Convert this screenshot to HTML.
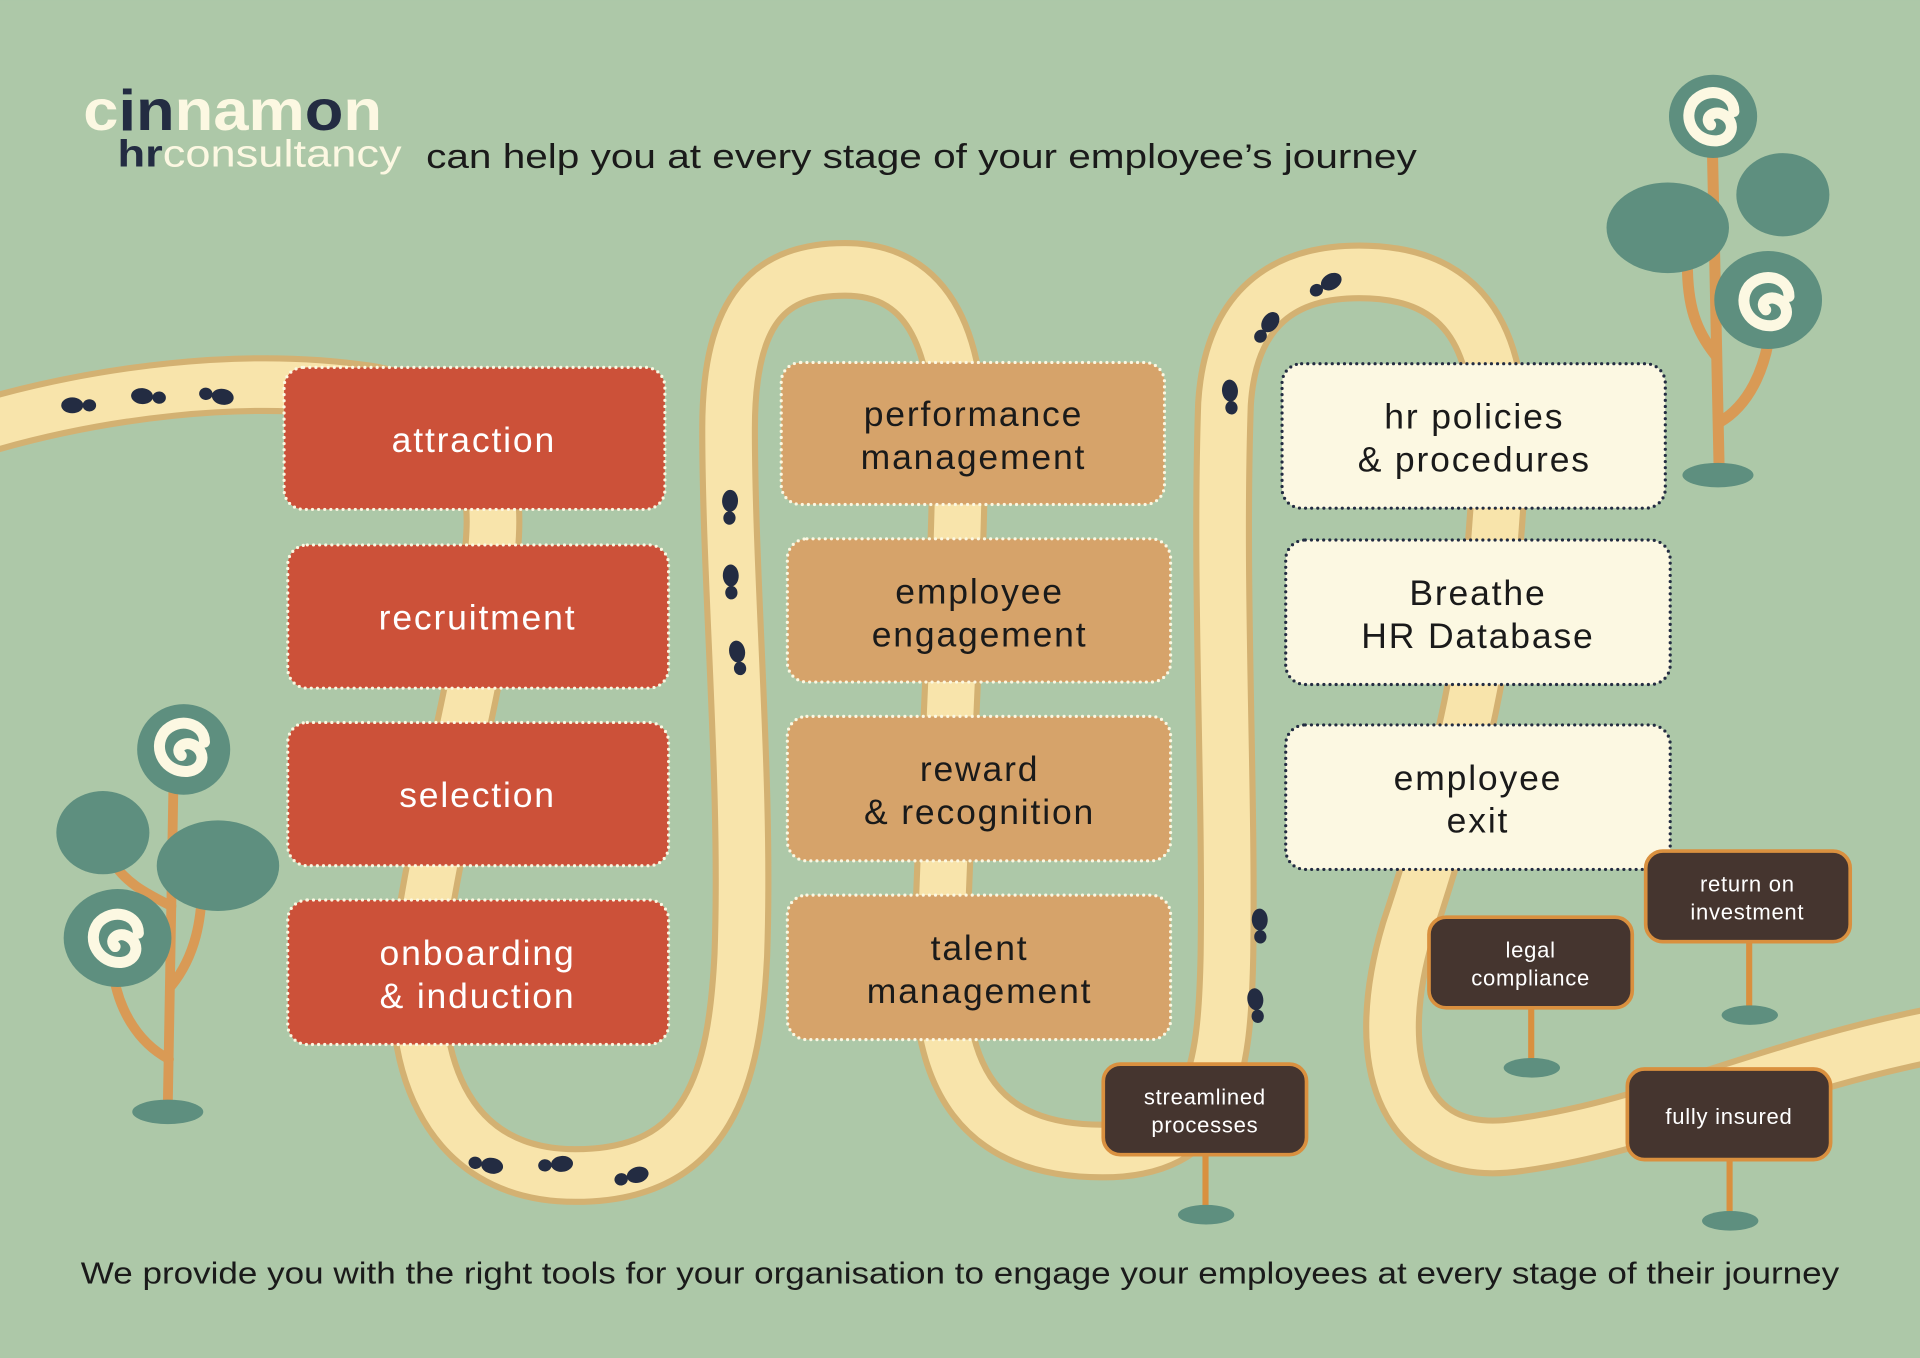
<!DOCTYPE html>
<html><head><meta charset="utf-8"><style>
html,body{margin:0;padding:0;background:#adc8a8;}
svg{display:block;}
text{font-family:"Liberation Sans",sans-serif;}
</style></head><body>
<svg width="1920" height="1358" viewBox="0 0 1568 1109" xmlns="http://www.w3.org/2000/svg">
<defs>
<g id="fp"><ellipse cx="-8" cy="0" rx="5.5" ry="5" fill="#232c42"/><ellipse cx="6" cy="0" rx="9" ry="6.5" fill="#232c42"/></g>
<g id="sp"><path d="M 17 -4 C 17 -20, -5 -25, -16 -12 C -26 2, -15 21, 3 20 C 16 19, 19 5, 9 -1 C 1 -6, -8 1, -2 7" fill="none" stroke="#fcf8e2" stroke-width="9" stroke-linecap="round"/></g>
</defs>
<rect width="1568" height="1109" fill="#adc8a8"/>
<path d="M -20 350 C 80 320, 200 305, 300 320 C 420 340, 405 420, 398 480 C 390 560, 360 660, 345 760 C 330 860, 360 960, 470 960 C 580 960, 600 880, 605 780 C 610 640, 595 480, 595 350 C 595 250, 630 220, 690 220 C 760 220, 785 280, 783 380 C 781 500, 772 650, 768 780 C 765 880, 800 940, 900 940 C 990 940, 1000 880, 1002 780 C 1004 640, 995 480, 1000 330 C 1005 250, 1050 222, 1110 222 C 1200 222, 1228 280, 1224 380 C 1220 520, 1190 640, 1150 760 C 1120 860, 1140 950, 1240 935 C 1350 920, 1450 870, 1580 845" fill="none" stroke="#d3b172" stroke-width="48"/>
<path d="M -20 350 C 80 320, 200 305, 300 320 C 420 340, 405 420, 398 480 C 390 560, 360 660, 345 760 C 330 860, 360 960, 470 960 C 580 960, 600 880, 605 780 C 610 640, 595 480, 595 350 C 595 250, 630 220, 690 220 C 760 220, 785 280, 783 380 C 781 500, 772 650, 768 780 C 765 880, 800 940, 900 940 C 990 940, 1000 880, 1002 780 C 1004 640, 995 480, 1000 330 C 1005 250, 1050 222, 1110 222 C 1200 222, 1228 280, 1224 380 C 1220 520, 1190 640, 1150 760 C 1120 860, 1140 950, 1240 935 C 1350 920, 1450 870, 1580 845" fill="none" stroke="#f8e4ab" stroke-width="38"/>
<use href="#fp" transform="translate(65,331) rotate(180)"/>
<use href="#fp" transform="translate(122,324) rotate(185)"/>
<use href="#fp" transform="translate(176,323) rotate(10)"/>
<use href="#fp" transform="translate(396,951) rotate(10)"/>
<use href="#fp" transform="translate(453,951) rotate(-5)"/>
<use href="#fp" transform="translate(515,961) rotate(-15)"/>
<use href="#fp" transform="translate(596,415) rotate(-88)"/>
<use href="#fp" transform="translate(597,476) rotate(-92)"/>
<use href="#fp" transform="translate(603,538) rotate(-100)"/>
<use href="#fp" transform="translate(1005,325) rotate(-95)"/>
<use href="#fp" transform="translate(1034,268) rotate(-55)"/>
<use href="#fp" transform="translate(1082,233) rotate(-30)"/>
<use href="#fp" transform="translate(1029,757) rotate(-92)"/>
<use href="#fp" transform="translate(1026,822) rotate(-98)"/>
<text x="68" y="106" font-size="47" font-weight="bold" fill="#fcf8e2" textLength="244" lengthAdjust="spacingAndGlyphs">c<tspan fill="#232c42">in</tspan>nam<tspan fill="#232c42">o</tspan>n</text>
<text x="96" y="136" font-size="31" fill="#fcf8e2" textLength="232" lengthAdjust="spacingAndGlyphs"><tspan fill="#232c42" font-weight="bold">hr</tspan>consultancy</text>
<text x="348" y="137" font-size="28" fill="#1a1a1a" textLength="809" lengthAdjust="spacingAndGlyphs">can help you at every stage of your employee’s journey</text>
<g fill="#cc5139" stroke="#fcf8e2" stroke-width="2.6" stroke-dasharray="0 5" stroke-linecap="round">
<rect x="232" y="300" width="311" height="116" rx="16"/>
<rect x="235" y="445" width="311" height="117" rx="16"/>
<rect x="235" y="590" width="311" height="117" rx="16"/>
<rect x="235" y="735" width="311" height="118" rx="16"/>
</g>
<g fill="#d6a36a" stroke="#fcf8e2" stroke-width="2.6" stroke-dasharray="0 5" stroke-linecap="round">
<rect x="638" y="296" width="313" height="116" rx="16"/>
<rect x="643" y="440" width="313" height="117" rx="16"/>
<rect x="643" y="585" width="313" height="118" rx="16"/>
<rect x="643" y="731" width="313" height="118" rx="16"/>
</g>
<g fill="#fcf8e2" stroke="#232c42" stroke-width="2.6" stroke-dasharray="0 5" stroke-linecap="round">
<rect x="1047" y="297" width="313" height="118" rx="16"/>
<rect x="1050" y="441" width="314" height="118" rx="16"/>
<rect x="1050" y="592" width="314" height="118" rx="16"/>
</g>
<g font-size="29" text-anchor="middle" fill="#ffffff" letter-spacing="1.5">
<text x="387" y="369">attraction</text>
<text x="390" y="514">recruitment</text>
<text x="390" y="659">selection</text>
<text x="390" y="788">onboarding</text>
<text x="390" y="823">&amp; induction</text>
</g>
<g font-size="29" text-anchor="middle" fill="#1a1a1a" letter-spacing="1.5">
<text x="795" y="348">performance</text>
<text x="795" y="383">management</text>
<text x="800" y="493">employee</text>
<text x="800" y="528">engagement</text>
<text x="800" y="638">reward</text>
<text x="800" y="673">&amp; recognition</text>
<text x="800" y="784">talent</text>
<text x="800" y="819">management</text>
<text x="1204" y="350">hr policies</text>
<text x="1204" y="385">&amp; procedures</text>
<text x="1207" y="494">Breathe</text>
<text x="1207" y="529">HR Database</text>
<text x="1207" y="645">employee</text>
<text x="1207" y="680">exit</text>
</g>
<g fill="#d9903f">
<rect x="982" y="940" width="5" height="50"/>
<rect x="1248" y="820" width="5" height="50"/>
<rect x="1426" y="765" width="5" height="60"/>
<rect x="1410" y="945" width="5" height="50"/>
</g>
<g fill="#5e8f7f">
<ellipse cx="985" cy="992" rx="23" ry="8"/>
<ellipse cx="1251" cy="872" rx="23" ry="8"/>
<ellipse cx="1429" cy="829" rx="23" ry="8"/>
<ellipse cx="1413" cy="997" rx="23" ry="8"/>
</g>
<g fill="#45352f" stroke="#d9903f" stroke-width="3">
<rect x="901" y="869" width="166" height="74" rx="14"/>
<rect x="1167" y="749" width="166" height="74" rx="14"/>
<rect x="1344" y="695" width="167" height="74" rx="14"/>
<rect x="1329" y="873" width="166" height="74" rx="14"/>
</g>
<g font-size="18" text-anchor="middle" fill="#ffffff" letter-spacing="0.6">
<text x="984" y="902">streamlined</text>
<text x="984" y="925">processes</text>
<text x="1250" y="782">legal</text>
<text x="1250" y="805">compliance</text>
<text x="1427" y="728">return on</text>
<text x="1427" y="751">investment</text>
<text x="1412" y="918">fully insured</text>
</g>
<g fill="none" stroke="#d99a55" stroke-width="9" stroke-linecap="round">
<path d="M 1404 385 L 1398 100"/>
<path d="M 1401 290 C 1385 270, 1378 250, 1378 215"/>
<path d="M 1402 262 C 1420 250, 1440 240, 1448 225"/>
<path d="M 1404 345 C 1430 330, 1440 300, 1444 280"/>
</g>
<ellipse cx="1362" cy="186" rx="50" ry="37" fill="#5e8f7f"/>
<ellipse cx="1456" cy="159" rx="38" ry="34" fill="#5e8f7f"/>
<ellipse cx="1399" cy="95" rx="36" ry="34" fill="#5e8f7f"/>
<ellipse cx="1444" cy="245" rx="44" ry="40" fill="#5e8f7f"/>
<use href="#sp" transform="translate(1399,95)"/>
<use href="#sp" transform="translate(1444,246)"/>
<ellipse cx="1403" cy="388" rx="29" ry="10" fill="#5e8f7f"/>
<g fill="none" stroke="#d99a55" stroke-width="8" stroke-linecap="round">
<path d="M 137 905 L 142 620"/>
<path d="M 138 865 C 110 850, 95 820, 92 790"/>
<path d="M 140 805 C 160 780, 165 750, 165 720"/>
<path d="M 140 740 C 120 730, 100 720, 90 700"/>
</g>
<ellipse cx="84" cy="680" rx="38" ry="34" fill="#5e8f7f"/>
<ellipse cx="178" cy="707" rx="50" ry="37" fill="#5e8f7f"/>
<ellipse cx="150" cy="612" rx="38" ry="37" fill="#5e8f7f"/>
<ellipse cx="96" cy="766" rx="44" ry="40" fill="#5e8f7f"/>
<use href="#sp" transform="translate(150,610)"/>
<use href="#sp" transform="translate(96,766)"/>
<ellipse cx="137" cy="908" rx="29" ry="10" fill="#5e8f7f"/>
<text x="66" y="1048" font-size="25" fill="#1a1a1a" textLength="1436" lengthAdjust="spacingAndGlyphs">We provide you with the right tools for your organisation to engage your employees at every stage of their journey</text>
</svg>
</body></html>
